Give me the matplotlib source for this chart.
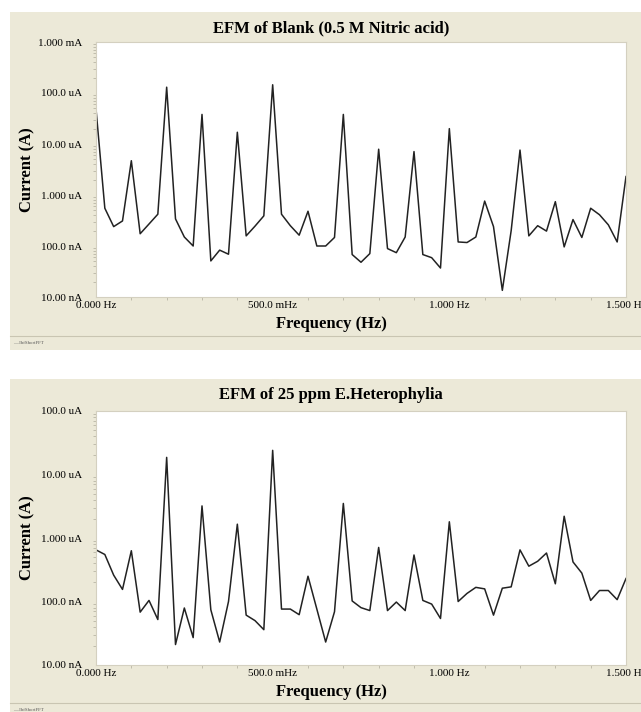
import matplotlib
matplotlib.use("Agg")
import matplotlib.pyplot as plt, numpy as np
from matplotlib.patches import Rectangle
from matplotlib.ticker import FixedLocator, NullFormatter

# DATA (current in uA, one point every 0.025 Hz)
freq = np.linspace(0, 1.5, 61)
blank_uA = [49, 0.55, 0.24, 0.31, 4.7, 0.174, 0.27, 0.42, 130, 0.34,
            0.15, 0.10, 38, 0.051, 0.083, 0.069, 17, 0.158, 0.245, 0.39,
            145, 0.42, 0.25, 0.163, 0.48, 0.10, 0.10, 0.147, 38, 0.068,
            0.048, 0.071, 7.9, 0.089, 0.074, 0.15, 7.1, 0.068, 0.059, 0.037,
            20, 0.12, 0.117, 0.15, 0.76, 0.24, 0.0135, 0.2, 7.6, 0.158,
            0.25, 0.196, 0.74, 0.096, 0.33, 0.147, 0.55, 0.41, 0.26, 0.12, 2.3]
extract_uA = [0.65, 0.55, 0.26, 0.155, 0.63, 0.068, 0.104, 0.052, 18.6, 0.021,
              0.079, 0.027, 3.2, 0.074, 0.023, 0.10, 1.65, 0.061, 0.050, 0.036,
              24, 0.076, 0.076, 0.062, 0.25, 0.076, 0.023, 0.069, 3.5, 0.102,
              0.080, 0.072, 0.71, 0.072, 0.098, 0.072, 0.54, 0.104, 0.091, 0.054,
              1.8, 0.10, 0.134, 0.167, 0.158, 0.061, 0.162, 0.17, 0.65, 0.36,
              0.43, 0.58, 0.19, 2.2, 0.42, 0.28, 0.104, 0.149, 0.149, 0.107, 0.23]

titles = ["EFM of Blank (0.5 M Nitric acid)", "EFM of 25 ppm E.Heterophylia"]
y1_ticks = [1e-3, 1e-4, 1e-5, 1e-6, 1e-7, 1e-8]
y1_labels = ["1.000 mA", "100.0 uA", "10.00 uA", "1.000 uA", "100.0 nA", "10.00 nA"]
y2_ticks = [1e-4, 1e-5, 1e-6, 1e-7, 1e-8]
y2_labels = ["100.0 uA", "10.00 uA", "1.000 uA", "100.0 nA", "10.00 nA"]
x_ticks = [0, 0.5, 1.0, 1.5]
x_labels = ["0.000 Hz", "500.0 mHz", "1.000 Hz", "1.500 Hz"]
legend_name = "IbfShortFFT"

W, H = 641, 712
BEIGE = "#ECE9D8"
SERIF = ["Liberation Serif", "DejaVu Serif"]

fig = plt.figure(figsize=(W / 100, H / 100), dpi=100)
fig.patch.set_facecolor("white")


def px(x, y):
    # pixel -> figure coords
    return x / W, 1 - y / H


def panel(top, bot, plot_top, plot_bot, title, y, yticks, ylabels):
    # FOND BEIGE
    x0, y0 = px(10, bot)
    fig.patches.append(Rectangle((x0, y0), 1 - x0, (bot - top) / H,
                                 transform=fig.transFigure, facecolor=BEIGE,
                                 edgecolor="none", zorder=-10))
    # legend strip separator
    sep = bot - 14
    fig.add_artist(plt.Line2D([x0, 1], [1 - sep / H] * 2, color="#C9C5B2", lw=0.8,
                              transform=fig.transFigure, zorder=-5))
    fig.text(13 / W, 1 - (bot - 7) / H, "\u2014 " + legend_name, fontsize=3.5,
             color="#555555", va="center", family=SERIF)

    # AXES
    l, b = px(96, plot_bot)
    ax = fig.add_axes([l, b, 530 / W, (plot_bot - plot_top) / H])
    ax.set_zorder(1)
    ax.set_facecolor("white")
    ax.plot(freq, np.array(y) * 1e-6, color="#222222", lw=1.1)
    ax.set_yscale("log")
    ax.set_ylim(yticks[-1], yticks[0])
    ax.set_xlim(0, 1.5)

    ax.yaxis.set_major_locator(FixedLocator(yticks))
    ax.set_yticklabels(ylabels, family=SERIF, fontsize=8)
    minors = [m * 10.0 ** e for e in range(-8, -3) for m in range(2, 10)]
    ax.yaxis.set_minor_locator(FixedLocator(minors))
    ax.yaxis.set_minor_formatter(NullFormatter())
    ax.set_xticks(x_ticks)
    ax.set_xticklabels(x_labels, family=SERIF, fontsize=8)
    ax.xaxis.set_minor_locator(FixedLocator(np.arange(0.1, 1.5, 0.1)))

    ax.tick_params(which="major", length=0, pad=10)
    ax.tick_params(axis="x", which="major", pad=3)
    ax.tick_params(which="minor", length=2, color="#B8B5A5", width=0.6)
    for s in ax.spines.values():
        s.set_color("#D4D0C0")
        s.set_linewidth(0.8)

    # TEXTES
    cx = 331 / W
    fig.text(cx, 1 - (top + 16) / H, title, ha="center", va="center",
             fontsize=12, fontweight="bold", family=SERIF)
    fig.text(cx, 1 - (plot_bot + 27) / H, "Frequency (Hz)", ha="center",
             va="center", fontsize=12, fontweight="bold", family=SERIF)
    fig.text(27 / W, 1 - ((plot_top + plot_bot) / 2) / H, "Current (A)",
             rotation=90, ha="center", va="center", fontsize=12,
             fontweight="bold", family=SERIF)
    return ax


panel(12, 350, 42, 297, titles[0], blank_uA, y1_ticks, y1_labels)
panel(379, 717, 411, 665, titles[1], extract_uA, y2_ticks, y2_labels)

fig.savefig("out.png", dpi=100, facecolor=fig.get_facecolor())
